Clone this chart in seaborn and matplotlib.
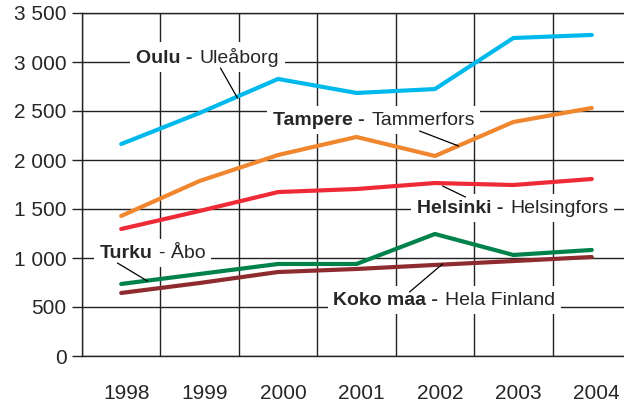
import numpy as np
import pandas as pd
import matplotlib
matplotlib.use('Agg')
import matplotlib.pyplot as plt
import matplotlib.transforms as mtransforms
from matplotlib.offsetbox import TextArea, HPacker, AnnotationBbox
from matplotlib.ticker import FuncFormatter, FixedLocator
import seaborn as sns

# Värden
years = [1998, 1999, 2000, 2001, 2002, 2003, 2004]
oulu = [2163, 2480, 2827, 2684, 2724, 3245, 3276]
tampere = [1429, 1786, 2051, 2235, 2041, 2388, 2531]
helsinki = [1296, 1480, 1673, 1704, 1765, 1745, 1806]
turku = [735, 837, 939, 939, 1245, 1031, 1082]
koko_maa = [643, 745, 857, 888, 929, 969, 1010]

series = {'Oulu': oulu, 'Tampere': tampere, 'Helsinki': helsinki,
          'Turku': turku, 'Koko maa': koko_maa}
colors = {'Oulu': '#00B9EC', 'Tampere': '#F0872F', 'Helsinki': '#EE2A36',
          'Turku': '#00824A', 'Koko maa': '#8E2B2E'}

df = pd.DataFrame([(name, y, v) for name, vals in series.items()
                   for y, v in zip(years, vals)],
                  columns=['kunta', 'vuosi', 'arvo'])

sns.set_style('white')
plt.rcParams['font.family'] = ['Liberation Sans', 'DejaVu Sans']

fig = plt.figure(figsize=(6.24, 4.03), dpi=100)
ax = fig.add_axes([82 / 624, 47 / 403, 549 / 624, 343 / 403])

sns.lineplot(data=df, x='vuosi', y='arvo', hue='kunta', palette=colors,
             linewidth=3, legend=False, ax=ax)
for ln in ax.lines:
    ln.set_zorder(4)

ax.set_xlim(1997.5, 2004.5)
ax.set_ylim(0, 3500)
ax.set_xlabel('')
ax.set_ylabel('')

# akselit ja ruudukko
gridc = '#222222'
ax.set_yticks(np.arange(0, 3501, 500))
ax.yaxis.set_major_formatter(FuncFormatter(lambda v, p: f'{int(v):,}'.replace(',', ' ')))
ax.set_xticks(years)
ax.xaxis.set_minor_locator(FixedLocator(np.arange(1997.5, 2005, 1.0)))
ax.tick_params(axis='x', which='major', length=0, pad=20, labelsize=15)
ax.tick_params(axis='x', which='minor', length=7, width=1, color=gridc, direction='out')
ax.tick_params(axis='y', length=7, width=1, color=gridc, pad=4, labelsize=15, left=True)
ax.grid(axis='y', which='major', color=gridc, lw=1)
ax.grid(axis='x', which='minor', color=gridc, lw=1)
ax.set_axisbelow(True)
for s in ax.spines.values():
    s.set_color(gridc)
    s.set_linewidth(1)

offset = mtransforms.ScaledTranslation(0.05, 0, fig.dpi_scale_trans)
for lab in ax.get_xticklabels():
    lab.set_transform(lab.get_transform() + offset)

# nimilaput
labels = [
    ('Oulu -', 'Uleåborg', 1999.10, 3051),
    ('Tampere -', 'Tammerfors', 2001.22, 2408),
    ('Helsinki -', 'Helsingfors', 2002.99, 1510),
    ('Turku', '- Åbo', 1998.40, 1051),
    ('Koko maa -', 'Hela Finland', 2002.12, 571),
]
for bold, normal, x, y in labels:
    box = HPacker(children=[TextArea(bold, textprops=dict(fontsize=14, fontweight='bold')),
                            TextArea(normal, textprops=dict(fontsize=14))],
                  sep=5, pad=0, align='baseline')
    ab = AnnotationBbox(box, (x, y), xycoords='data', frameon=True, pad=0.4,
                        bboxprops=dict(facecolor='white', edgecolor='none'))
    ab.set_zorder(3)
    ax.add_artist(ab)

leaders = [
    ((1999.265, 2939), (1999.482, 2633)),
    ((2001.804, 2296), (2002.301, 2143)),
    ((2002.097, 1735), (2002.390, 1622)),
    ((1997.952, 949), (1998.334, 765)),
    ((2001.676, 653), (2002.097, 939)),
]
for start, end in leaders:
    ax.annotate('', xy=end, xytext=start,
                arrowprops=dict(arrowstyle='-', lw=0.9, color='black',
                                shrinkA=0, shrinkB=0), zorder=5)

fig.savefig('out.png', dpi=100)
